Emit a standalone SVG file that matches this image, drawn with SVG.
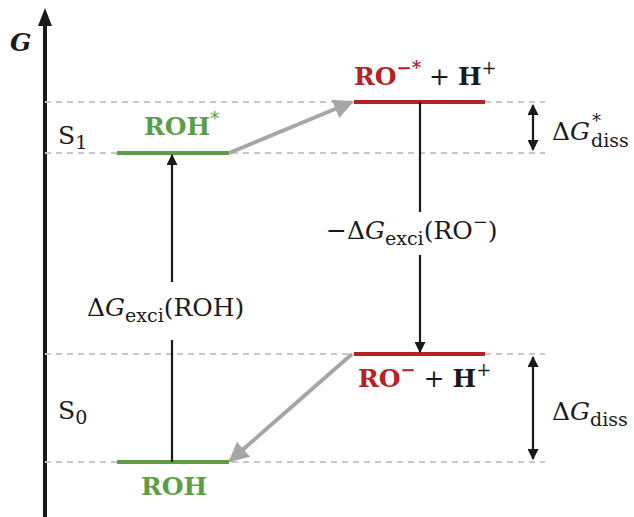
<svg xmlns="http://www.w3.org/2000/svg" width="634" height="517" viewBox="0 0 634 517">
<style>
text{font-family:"DejaVu Serif","Liberation Serif",serif;font-size:25px;fill:#1a1a1a}
.dash{stroke:#c8c8c8;stroke-width:2;stroke-dasharray:6 5;fill:none}
.green{stroke:#5b9e47;stroke-width:4}
.red{stroke:#b52224;stroke-width:4}
.gt{fill:#5b9e47;font-weight:bold}
.rt{fill:#b52224;font-weight:bold}
.blk{stroke:#1a1a1a;stroke-width:2.2;fill:none}
.gray{stroke:#a6a6a6;stroke-width:4;fill:none}
.i{font-style:italic}
.sub{font-size:19px}
.sup{font-size:18px}
</style>
<defs>
<marker id="ah" viewBox="0 0 10 10" refX="9" refY="5" markerWidth="5.5" markerHeight="5" orient="auto-start-reverse" markerUnits="strokeWidth">
<path d="M0,0 L10,5 L0,10 z" fill="#1a1a1a"/>
</marker>
<marker id="ahg" viewBox="0 0 10 10" refX="9" refY="5" markerWidth="5" markerHeight="5" orient="auto" markerUnits="strokeWidth">
<path d="M0,0 L10,5 L0,10 z" fill="#a6a6a6"/>
</marker>
</defs>
<g id="axis">
<line x1="45" y1="517" x2="45" y2="24" stroke="#1a1a1a" stroke-width="4"/>
<path d="M38,26 L45,8 L52,26 z" fill="#1a1a1a"/>
<text x="10" y="51" font-weight="bold" font-style="italic" font-size="24">G</text>
</g>
<g id="guides">
<line class="dash" x1="45" y1="102" x2="545" y2="102"/>
<line class="dash" x1="45" y1="153" x2="545" y2="153"/>
<line class="dash" x1="45" y1="354" x2="545" y2="354"/>
<line class="dash" x1="45" y1="462" x2="545" y2="462"/>
</g>
<g id="S1"><text x="58" y="144">S<tspan class="sub" dy="5">1</tspan></text></g>
<g id="S0"><text x="58" y="419">S<tspan class="sub" dy="5">0</tspan></text></g>
<g id="ROH_star">
<line class="green" x1="117" y1="153" x2="229" y2="153"/>
<text class="gt" x="144" y="135">ROH<tspan class="sup" dy="-10" font-weight="normal">*</tspan></text>
</g>
<g id="ROH">
<line class="green" x1="117" y1="462" x2="229" y2="462"/>
<text class="gt" x="174" y="495" text-anchor="middle">ROH</text>
</g>
<g id="RO_star">
<line class="red" x1="354" y1="102" x2="485" y2="102"/>
<text x="354" y="85"><tspan class="rt">RO<tspan class="sup" dy="-11">−*</tspan></tspan><tspan dy="11"> + </tspan><tspan font-weight="bold">H</tspan><tspan class="sup" dy="-11">+</tspan></text>
</g>
<g id="RO">
<line class="red" x1="354" y1="354" x2="485" y2="354"/>
<text x="358" y="387"><tspan class="rt">RO<tspan class="sup" dy="-11">−</tspan></tspan><tspan dy="11"> + </tspan><tspan font-weight="bold">H</tspan><tspan class="sup" dy="-11">+</tspan></text>
</g>
<g id="connectors">
<line class="gray" x1="229" y1="153" x2="352" y2="102" marker-end="url(#ahg)"/>
<line class="gray" x1="352" y1="354" x2="230" y2="461" marker-end="url(#ahg)"/>
<line class="blk" x1="172" y1="462" x2="172" y2="340"/>
<line class="blk" x1="172" y1="282" x2="172" y2="155" marker-end="url(#ah)"/>
<line class="blk" x1="420" y1="102" x2="420" y2="212"/>
<line class="blk" x1="420" y1="255" x2="420" y2="352" marker-end="url(#ah)"/>
<line class="blk" x1="533" y1="105" x2="533" y2="150" marker-start="url(#ah)" marker-end="url(#ah)"/>
<line class="blk" x1="533" y1="357" x2="533" y2="459" marker-start="url(#ah)" marker-end="url(#ah)"/>
</g>
<g id="label_exci_ROH"><text x="87" y="316">Δ<tspan class="i">G</tspan><tspan class="sub" dy="6">exci</tspan><tspan dy="-6">(ROH)</tspan></text></g>
<g id="label_exci_RO"><text x="326" y="239">−Δ<tspan class="i">G</tspan><tspan class="sub" dy="6">exci</tspan><tspan dy="-6">(RO</tspan><tspan class="sup" dy="-11">−</tspan><tspan dy="11">)</tspan></text></g>
<g id="label_diss_star"><text x="552" y="140">Δ<tspan class="i">G</tspan></text><text class="sup" x="592" y="127">*</text><text class="sub" x="591" y="147">diss</text></g>
<g id="label_diss"><text x="552" y="420">Δ<tspan class="i">G</tspan><tspan class="sub" dy="6">diss</tspan></text></g>
</svg>
